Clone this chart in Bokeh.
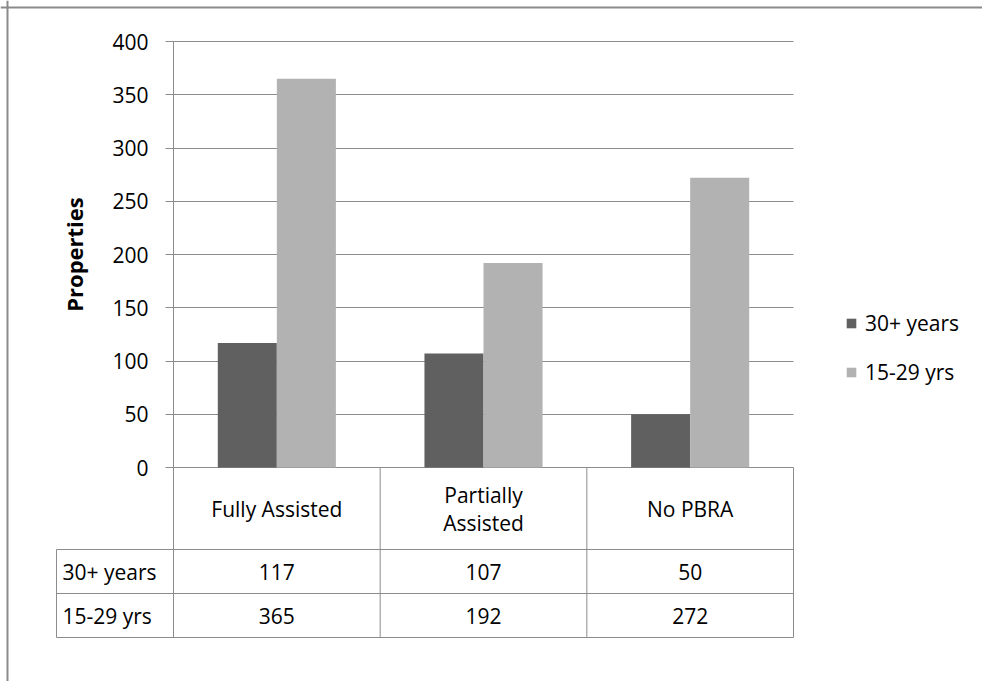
import textwrap
from bokeh.plotting import figure
from bokeh.models import (Range1d, LinearAxis, FixedTicker, Grid, Legend, LegendItem,
                          ColumnDataSource, Span)
from bokeh.transform import dodge
from bokeh.core.properties import value
from bokeh.embed import file_html
from bokeh.resources import INLINE

# ---------------- data ----------------
categories = ["Fully Assisted", "Partially Assisted", "No PBRA"]
series_names = ["30+ years", "15-29 yrs"]
years_30_plus = [117, 107, 50]
years_15_29 = [365, 192, 272]
y_ticks = [0, 50, 100, 150, 200, 250, 300, 350, 400]
y_axis_title = "Properties"

# ---------------- layout / style ----------------
W, H = 982, 681
PX_PER_CAT = 206.67      # pixels per category slot
PX_PER_UNIT = 1.065      # pixels per value unit
X_START = -173 / PX_PER_CAT
X_END = len(categories) + 189 / PX_PER_CAT
Y_END = 400 + 41 / PX_PER_UNIT
Y_START = -214 / PX_PER_UNIT
BAR_W = 0.2857
ROWHEAD_W = 117 / PX_PER_CAT
HEADER_H = 82 / PX_PER_UNIT
ROW_H = 44 / PX_PER_UNIT
DARK = "#606060"
LIGHT = "#b2b2b2"
LINE = "#8c8c8c"
FONT = "Open Sans"
FS = "21px"

p = figure(width=W, height=H, output_backend="svg", toolbar_location=None,
           x_range=Range1d(X_START, X_END), y_range=Range1d(Y_START, Y_END),
           x_axis_type=None, y_axis_type=None,
           min_border=0, min_border_left=0, min_border_right=0,
           min_border_top=0, min_border_bottom=0)
p.outline_line_color = None
p.background_fill_color = "white"
p.border_fill_color = "white"

n = len(categories)
xc = [i + 0.5 for i in range(n)]
src = ColumnDataSource(dict(xc=xc, s30=years_30_plus, s15=years_15_29))

# grid (only over the category area)
grid = Grid(dimension=1, ticker=FixedTicker(ticks=y_ticks), cross_bounds=(0, n),
            grid_line_color=LINE, grid_line_width=1)
p.add_layout(grid)

r1 = p.vbar(x=dodge("xc", -BAR_W / 2, range=p.x_range), top="s30", width=BAR_W,
            source=src, fill_color=DARK, line_color=None)
r2 = p.vbar(x=dodge("xc", BAR_W / 2, range=p.x_range), top="s15", width=BAR_W,
            source=src, fill_color=LIGHT, line_color=None)

# y axis placed at the start of the category area
ax = LinearAxis(fixed_location=0, bounds=(0, 400), ticker=FixedTicker(ticks=y_ticks),
                axis_label=y_axis_title)
ax.axis_line_color = LINE
ax.major_tick_line_color = LINE
ax.major_tick_out = 8
ax.major_tick_in = 0
ax.minor_tick_line_color = None
ax.major_label_text_font = FONT
ax.major_label_text_font_size = FS
ax.major_label_text_color = "black"
ax.major_label_standoff = 17
ax.axis_label_text_font = FONT
ax.axis_label_text_font_size = "22px"
ax.axis_label_text_font_style = "bold"
ax.axis_label_text_color = "black"
ax.axis_label_standoff = 20
p.add_layout(ax, "left")

# ---------------- data table ----------------
bottom = -(HEADER_H + 2 * ROW_H)
# vertical lines at category boundaries
vx = list(range(n + 1))
p.segment(x0=vx, y0=[0] * len(vx), x1=vx, y1=[bottom] * len(vx),
          line_color=LINE, line_width=1)
# row-header left edge
p.segment(x0=[-ROWHEAD_W], y0=[-HEADER_H], x1=[-ROWHEAD_W], y1=[bottom],
          line_color=LINE, line_width=1)
# horizontal lines
hy = [-HEADER_H, -HEADER_H - ROW_H, bottom]
p.segment(x0=[-ROWHEAD_W] * 3, y0=hy, x1=[n] * 3, y1=hy, line_color=LINE, line_width=1)

# category header labels
cat_labels = [textwrap.fill(c, 14) for c in categories]
p.text(x=xc, y=[-HEADER_H / 2] * n, text=cat_labels, text_align="center",
       text_baseline="middle", text_font=value(FONT), text_font_size=FS,
       text_color="black", text_line_height=1.0)

# series rows
rows = [years_30_plus, years_15_29]
for k, (name, vals) in enumerate(zip(series_names, rows)):
    yc = -(HEADER_H + (k + 0.5) * ROW_H)
    p.text(x=[-ROWHEAD_W + 6 / PX_PER_CAT], y=[yc], text=[name], text_align="left",
           text_baseline="middle", text_font=value(FONT), text_font_size=FS,
           text_color="black")
    p.text(x=xc, y=[yc] * n, text=[str(v) for v in vals], text_align="center",
           text_baseline="middle", text_font=value(FONT), text_font_size=FS,
           text_color="black")

# ---------------- legend ----------------
legend = Legend(items=[LegendItem(label=series_names[0], renderers=[r1]),
                       LegendItem(label=series_names[1], renderers=[r2])],
                location=(845, 295), orientation="vertical",
                glyph_width=12, glyph_height=12, label_standoff=8, label_height=28,
                spacing=21, padding=0, margin=0,
                label_text_font=FONT, label_text_font_size=FS, label_text_color="black",
                border_line_color=None, background_fill_alpha=0)
p.add_layout(legend)

# chart-area border (left and top edges visible)
p.add_layout(Span(location=X_START + 7 / PX_PER_CAT, dimension="height",
                  line_color="#8a8a8a", line_width=2))
p.add_layout(Span(location=Y_END - 7 / PX_PER_UNIT, dimension="width",
                  line_color="#8a8a8a", line_width=2))

open("out.html", "w").write(file_html(p, INLINE))
